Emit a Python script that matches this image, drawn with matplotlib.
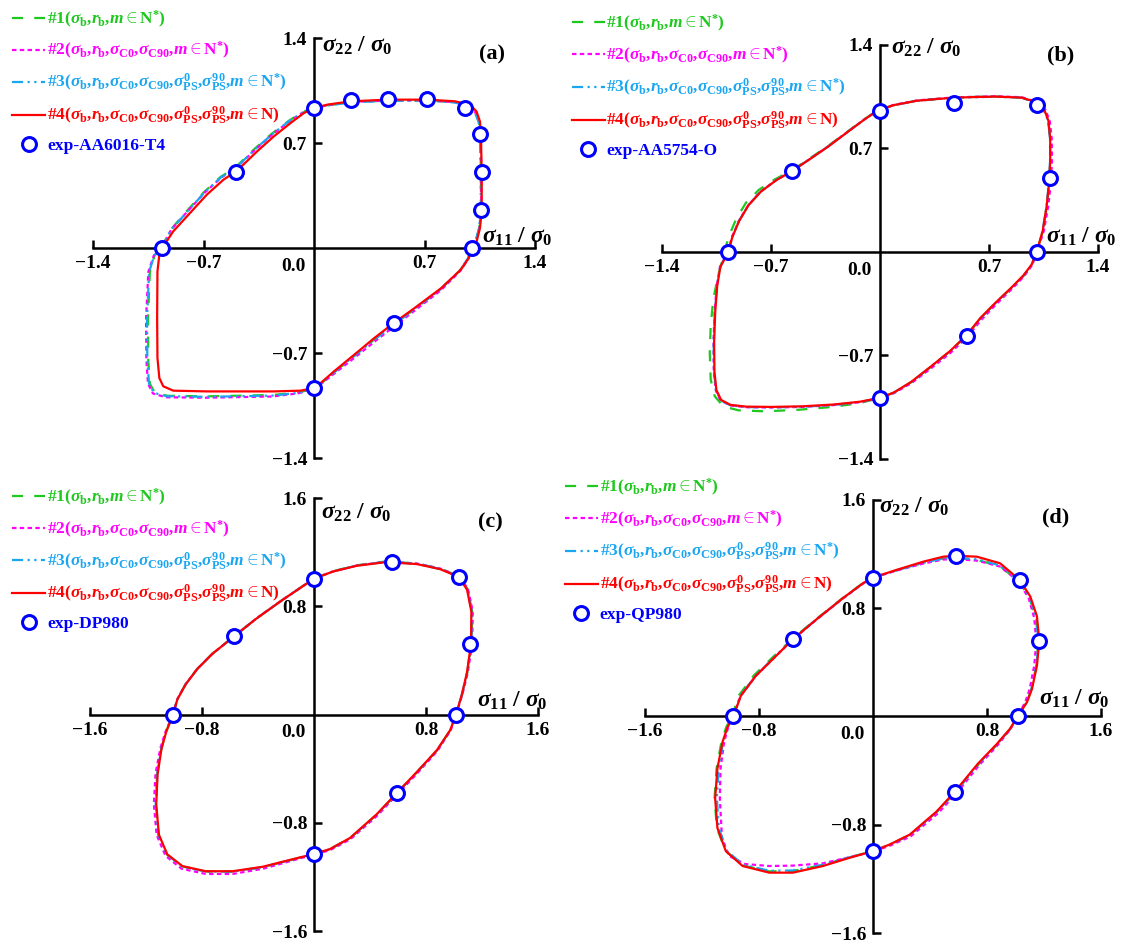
import numpy as np
import matplotlib.pyplot as plt

plt.rcParams['font.family'] = ['Liberation Serif', 'DejaVu Serif']
plt.rcParams['font.weight'] = 'bold'
plt.rcParams['mathtext.fontset'] = 'custom'
plt.rcParams['mathtext.rm'] = 'Liberation Serif:bold'
plt.rcParams['mathtext.it'] = 'Liberation Serif:bold:italic'
plt.rcParams['mathtext.bf'] = 'Liberation Serif:bold'

# ---- (a) AA6016-T4 ----
a_fit1 = [(-0.968, 0.000), (-0.910, 0.120), (-0.805, 0.248), (-0.698, 0.372), (-0.592, 0.474), (-0.500, 0.535),
          (-0.378, 0.660), (-0.270, 0.760), (-0.160, 0.848), (-0.070, 0.908), (0.000, 0.935), (0.085, 0.952),
          (0.234, 0.972), (0.467, 0.983), (0.722, 0.984), (0.892, 0.972), (0.980, 0.948), (1.022, 0.905),
          (1.045, 0.840), (1.052, 0.756), (1.057, 0.511), (1.057, 0.244), (1.046, 0.130), (1.022, 0.040),
          (1.000, 0.000), (0.975, -0.070), (0.924, -0.150), (0.798, -0.278), (0.630, -0.412), (0.500, -0.515),
          (0.375, -0.615), (0.248, -0.725), (0.120, -0.835), (0.040, -0.908), (0.000, -0.935), (-0.090, -0.962),
          (-0.260, -0.980), (-0.680, -0.989), (-0.930, -0.985), (-1.010, -0.962), (-1.040, -0.905),
          (-1.050, -0.750), (-1.052, -0.470), (-1.040, -0.160), (-1.010, -0.050), (-0.968, 0.000)]
a_fit2 = [(-0.966, 0.000), (-0.906, 0.121), (-0.801, 0.245), (-0.694, 0.368), (-0.588, 0.470), (-0.498, 0.530),
          (-0.372, 0.656), (-0.265, 0.756), (-0.157, 0.844), (-0.068, 0.905), (0.000, 0.934), (0.085, 0.952),
          (0.234, 0.973), (0.467, 0.984), (0.722, 0.984), (0.892, 0.972), (0.980, 0.947), (1.022, 0.904),
          (1.046, 0.840), (1.054, 0.756), (1.060, 0.511), (1.059, 0.244), (1.047, 0.130), (1.022, 0.038),
          (1.000, 0.000), (0.977, -0.072), (0.927, -0.152), (0.803, -0.282), (0.636, -0.418), (0.508, -0.522),
          (0.382, -0.625), (0.252, -0.735), (0.122, -0.842), (0.040, -0.910), (0.000, -0.935), (-0.095, -0.968),
          (-0.265, -0.990), (-0.685, -0.998), (-0.940, -0.995), (-1.020, -0.970), (-1.052, -0.905),
          (-1.062, -0.750), (-1.064, -0.470), (-1.050, -0.160), (-1.015, -0.050), (-0.966, 0.000)]
a_fit3 = [(-0.966, 0.000), (-0.905, 0.122), (-0.800, 0.246), (-0.694, 0.370), (-0.588, 0.472), (-0.498, 0.532),
          (-0.374, 0.658), (-0.266, 0.758), (-0.158, 0.846), (-0.068, 0.906), (0.000, 0.934), (0.085, 0.950),
          (0.234, 0.970), (0.467, 0.982), (0.722, 0.983), (0.892, 0.970), (0.978, 0.945), (1.020, 0.902),
          (1.043, 0.838), (1.050, 0.756), (1.056, 0.511), (1.056, 0.244), (1.045, 0.130), (1.021, 0.040),
          (1.000, 0.000), (0.974, -0.070), (0.922, -0.152), (0.796, -0.280), (0.628, -0.414), (0.500, -0.516),
          (0.374, -0.617), (0.246, -0.727), (0.118, -0.836), (0.040, -0.908), (0.000, -0.935), (-0.092, -0.965),
          (-0.262, -0.984), (-0.682, -0.992), (-0.935, -0.988), (-1.015, -0.965), (-1.045, -0.905),
          (-1.056, -0.750), (-1.058, -0.470), (-1.045, -0.160), (-1.012, -0.050), (-0.966, 0.000)]
a_fit4 = [(-0.962, 0.000), (-0.892, 0.111), (-0.786, 0.233), (-0.679, 0.356), (-0.573, 0.456), (-0.488, 0.515),
          (-0.361, 0.644), (-0.255, 0.744), (-0.149, 0.833), (-0.064, 0.900), (0.000, 0.933), (0.085, 0.956),
          (0.234, 0.978), (0.467, 0.989), (0.722, 0.989), (0.892, 0.978), (0.987, 0.956), (1.029, 0.911),
          (1.051, 0.844), (1.057, 0.756), (1.062, 0.511), (1.062, 0.244), (1.051, 0.133), (1.030, 0.044),
          (1.002, 0.000), (0.980, -0.067), (0.930, -0.144), (0.806, -0.267), (0.637, -0.400), (0.505, -0.500),
          (0.382, -0.600), (0.255, -0.711), (0.127, -0.822), (0.042, -0.900), (0.000, -0.933), (-0.085, -0.951),
          (-0.255, -0.956), (-0.679, -0.956), (-0.892, -0.951), (-0.955, -0.922), (-0.980, -0.867),
          (-0.992, -0.733), (-0.994, -0.467), (-0.992, -0.156), (-0.980, -0.044), (-0.962, 0.000)]
a_exp_x = [0.0, 0.234, 0.467, 0.716, 0.955, 1.051, 1.062, 1.055, 1.002, 0.505, 0.0, -0.962, -0.495]
a_exp_y = [0.933, 0.984, 0.996, 0.996, 0.933, 0.760, 0.507, 0.251, 0.0, -0.500, -0.933, 0.0, 0.507]

# ---- (b) AA5754-O ----
b_fit4 = [(-0.974, 0.000), (-0.948, 0.101), (-0.905, 0.208), (-0.845, 0.315), (-0.765, 0.408), (-0.668, 0.484),
          (-0.563, 0.549), (-0.450, 0.628), (-0.330, 0.715), (-0.210, 0.810), (-0.100, 0.896), (-0.040, 0.939),
          (0.000, 0.963), (0.087, 0.993), (0.238, 1.023), (0.476, 1.044), (0.736, 1.051), (0.909, 1.044),
          (1.006, 1.012), (1.055, 0.962), (1.082, 0.886), (1.093, 0.764), (1.093, 0.611), (1.085, 0.459),
          (1.070, 0.309), (1.045, 0.143), (1.006, 0.000), (0.974, -0.085), (0.920, -0.160), (0.840, -0.245),
          (0.740, -0.345), (0.645, -0.446), (0.556, -0.563), (0.450, -0.670), (0.330, -0.772), (0.200, -0.879),
          (0.090, -0.950), (0.000, -0.987), (-0.130, -1.013), (-0.300, -1.032), (-0.500, -1.044),
          (-0.700, -1.048), (-0.860, -1.046), (-0.960, -1.034), (-1.020, -1.001), (-1.050, -0.935),
          (-1.063, -0.812), (-1.065, -0.609), (-1.058, -0.406), (-1.045, -0.228), (-1.025, -0.101), (-0.974, 0.000)]
b_fit1 = [(-1.000, 0.000), (-0.970, 0.107), (-0.925, 0.220), (-0.862, 0.331), (-0.778, 0.420), (-0.675, 0.491),
          (-0.566, 0.552), (-0.452, 0.632), (-0.331, 0.719), (-0.210, 0.813), (-0.100, 0.898), (-0.040, 0.940),
          (0.000, 0.963), (0.087, 0.992), (0.238, 1.024), (0.476, 1.046), (0.736, 1.052), (0.909, 1.043),
          (1.004, 1.010), (1.052, 0.959), (1.080, 0.884), (1.092, 0.764), (1.093, 0.611), (1.086, 0.459),
          (1.072, 0.309), (1.046, 0.143), (1.006, 0.000), (0.975, -0.085), (0.921, -0.162), (0.841, -0.246),
          (0.741, -0.348), (0.646, -0.450), (0.556, -0.566), (0.448, -0.673), (0.328, -0.776), (0.198, -0.882),
          (0.088, -0.953), (0.000, -0.987), (-0.130, -1.022), (-0.303, -1.048), (-0.519, -1.067),
          (-0.736, -1.078), (-0.909, -1.071), (-1.006, -1.044), (-1.061, -0.976), (-1.087, -0.863),
          (-1.093, -0.682), (-1.087, -0.501), (-1.071, -0.321), (-1.039, -0.159), (-1.015, -0.067), (-1.000, 0.000)]
b_fit2 = [(-0.976, 0.000), (-0.950, 0.102), (-0.907, 0.209), (-0.846, 0.316), (-0.766, 0.409), (-0.668, 0.485),
          (-0.563, 0.550), (-0.450, 0.629), (-0.330, 0.716), (-0.210, 0.811), (-0.100, 0.897), (-0.040, 0.939),
          (0.000, 0.963), (0.087, 0.994), (0.238, 1.025), (0.476, 1.046), (0.736, 1.053), (0.909, 1.047),
          (1.010, 1.014), (1.062, 0.962), (1.090, 0.886), (1.103, 0.764), (1.104, 0.611), (1.097, 0.459),
          (1.080, 0.309), (1.052, 0.143), (1.008, 0.000), (0.978, -0.087), (0.925, -0.165), (0.846, -0.251),
          (0.747, -0.353), (0.652, -0.457), (0.562, -0.573), (0.455, -0.680), (0.334, -0.782), (0.203, -0.886),
          (0.090, -0.955), (0.000, -0.989), (-0.130, -1.016), (-0.300, -1.036), (-0.500, -1.048),
          (-0.700, -1.052), (-0.860, -1.050), (-0.962, -1.038), (-1.024, -1.004), (-1.054, -0.937),
          (-1.067, -0.812), (-1.069, -0.609), (-1.062, -0.406), (-1.048, -0.228), (-1.027, -0.101), (-0.976, 0.000)]
b_fit3 = [(-0.976, 0.000), (-0.950, 0.102), (-0.906, 0.209), (-0.846, 0.316), (-0.766, 0.409), (-0.668, 0.485),
          (-0.563, 0.550), (-0.450, 0.629), (-0.330, 0.716), (-0.210, 0.811), (-0.100, 0.897), (-0.040, 0.939),
          (0.000, 0.963), (0.087, 0.992), (0.238, 1.022), (0.476, 1.043), (0.736, 1.050), (0.909, 1.043),
          (1.004, 1.010), (1.052, 0.960), (1.080, 0.884), (1.092, 0.764), (1.092, 0.611), (1.084, 0.459),
          (1.069, 0.309), (1.044, 0.143), (1.006, 0.000), (0.975, -0.086), (0.921, -0.161), (0.841, -0.246),
          (0.741, -0.347), (0.646, -0.448), (0.557, -0.565), (0.450, -0.672), (0.330, -0.774), (0.200, -0.881),
          (0.090, -0.951), (0.000, -0.987), (-0.130, -1.015), (-0.300, -1.035), (-0.500, -1.047),
          (-0.700, -1.051), (-0.860, -1.049), (-0.962, -1.037), (-1.023, -1.003), (-1.053, -0.936),
          (-1.066, -0.812), (-1.068, -0.609), (-1.061, -0.406), (-1.047, -0.228), (-1.027, -0.101), (-0.976, 0.000)]
b_exp_x = [0.0, 0.476, 1.011, 1.093, 1.006, 0.556, 0.0, -0.974, -0.563]
b_exp_y = [0.956, 1.008, 0.997, 0.497, 0.0, -0.569, -0.987, 0.0, 0.549]

# ---- (c) DP980 ----
c_fit4 = [(-1.007, 0.000), (-0.976, 0.113), (-0.916, 0.225), (-0.833, 0.338), (-0.725, 0.450), (-0.569, 0.580),
          (-0.414, 0.708), (-0.222, 0.850), (-0.079, 0.950), (0.000, 1.005), (0.136, 1.058), (0.304, 1.100),
          (0.495, 1.125), (0.555, 1.125), (0.734, 1.113), (0.902, 1.075), (1.033, 1.018), (1.093, 0.925),
          (1.124, 0.763), (1.122, 0.525), (1.093, 0.313), (1.057, 0.150), (1.014, 0.000), (0.974, -0.113),
          (0.878, -0.263), (0.734, -0.425), (0.591, -0.580), (0.447, -0.738), (0.256, -0.913), (0.112, -0.995),
          (0.000, -1.030), (-0.175, -1.075), (-0.366, -1.125), (-0.581, -1.158), (-0.773, -1.158),
          (-0.940, -1.120), (-1.048, -1.033), (-1.108, -0.888), (-1.127, -0.663), (-1.117, -0.438),
          (-1.089, -0.250), (-1.055, -0.125), (-1.007, 0.000)]
c_fit1 = [(-1.007, 0.000), (-0.977, 0.113), (-0.917, 0.226), (-0.834, 0.339), (-0.726, 0.451), (-0.569, 0.581),
          (-0.414, 0.709), (-0.222, 0.851), (-0.079, 0.951), (0.000, 1.005), (0.136, 1.060), (0.304, 1.104),
          (0.495, 1.130), (0.555, 1.130), (0.734, 1.117), (0.902, 1.080), (1.036, 1.022), (1.098, 0.928),
          (1.130, 0.763), (1.126, 0.525), (1.096, 0.313), (1.058, 0.150), (1.014, 0.000), (0.975, -0.113),
          (0.879, -0.264), (0.735, -0.427), (0.592, -0.582), (0.448, -0.740), (0.257, -0.915), (0.112, -0.996),
          (0.000, -1.030), (-0.175, -1.078), (-0.366, -1.128), (-0.581, -1.160), (-0.773, -1.160),
          (-0.941, -1.122), (-1.050, -1.035), (-1.110, -0.888), (-1.129, -0.663), (-1.119, -0.438),
          (-1.090, -0.250), (-1.056, -0.125), (-1.007, 0.000)]
c_fit2 = [(-1.008, 0.000), (-0.977, 0.113), (-0.917, 0.225), (-0.834, 0.338), (-0.726, 0.450), (-0.570, 0.580),
          (-0.415, 0.708), (-0.223, 0.850), (-0.079, 0.950), (0.000, 1.004), (0.136, 1.058), (0.304, 1.102),
          (0.495, 1.128), (0.555, 1.129), (0.734, 1.117), (0.902, 1.080), (1.036, 1.023), (1.100, 0.930),
          (1.134, 0.763), (1.130, 0.525), (1.099, 0.313), (1.060, 0.150), (1.015, 0.000), (0.977, -0.115),
          (0.883, -0.267), (0.740, -0.431), (0.597, -0.588), (0.452, -0.747), (0.259, -0.922), (0.112, -1.003),
          (0.000, -1.034), (-0.175, -1.085), (-0.366, -1.140), (-0.581, -1.178), (-0.773, -1.178),
          (-0.945, -1.140), (-1.060, -1.045), (-1.124, -0.890), (-1.144, -0.663), (-1.132, -0.438),
          (-1.098, -0.250), (-1.060, -0.125), (-1.008, 0.000)]
c_fit3 = [(-1.007, 0.000), (-0.976, 0.113), (-0.916, 0.225), (-0.833, 0.338), (-0.725, 0.450), (-0.569, 0.580),
          (-0.414, 0.708), (-0.222, 0.850), (-0.079, 0.950), (0.000, 1.005), (0.136, 1.059), (0.304, 1.102),
          (0.495, 1.127), (0.555, 1.127), (0.734, 1.115), (0.902, 1.077), (1.034, 1.020), (1.095, 0.926),
          (1.127, 0.763), (1.124, 0.525), (1.094, 0.313), (1.057, 0.150), (1.014, 0.000), (0.975, -0.113),
          (0.879, -0.264), (0.735, -0.426), (0.592, -0.581), (0.448, -0.739), (0.257, -0.914), (0.112, -0.996),
          (0.000, -1.030), (-0.175, -1.077), (-0.366, -1.128), (-0.581, -1.161), (-0.773, -1.161),
          (-0.942, -1.123), (-1.051, -1.035), (-1.112, -0.888), (-1.131, -0.663), (-1.120, -0.438),
          (-1.091, -0.250), (-1.056, -0.125), (-1.007, 0.000)]
c_exp_x = [0.0, 0.555, 1.033, 1.117, 1.014, 0.591, 0.0, -1.007, -0.569]
c_exp_y = [1.005, 1.125, 1.018, 0.525, 0.0, -0.580, -1.030, 0.0, 0.580]

# ---- (d) QP980 ----
d_fit4 = [(-0.981, 0.000), (-0.927, 0.154), (-0.822, 0.301), (-0.681, 0.447), (-0.563, 0.570), (-0.399, 0.716),
          (-0.211, 0.875), (-0.070, 0.985), (0.000, 1.027), (0.164, 1.083), (0.352, 1.144), (0.493, 1.181),
          (0.582, 1.188), (0.728, 1.181), (0.892, 1.132), (1.028, 1.010), (1.103, 0.888), (1.150, 0.741),
          (1.167, 0.557), (1.150, 0.374), (1.115, 0.203), (1.080, 0.105), (1.014, 0.000), (0.962, -0.090),
          (0.869, -0.203), (0.735, -0.350), (0.575, -0.555), (0.446, -0.702), (0.258, -0.873), (0.117, -0.946),
          (0.000, -0.995), (-0.164, -1.044), (-0.352, -1.105), (-0.563, -1.154), (-0.728, -1.154),
          (-0.915, -1.105), (-1.033, -0.995), (-1.092, -0.824), (-1.108, -0.604), (-1.092, -0.384),
          (-1.056, -0.188), (-1.021, -0.078), (-0.981, 0.000)]
d_fit1 = [(-0.990, 0.000), (-0.940, 0.158), (-0.834, 0.306), (-0.690, 0.452), (-0.566, 0.573), (-0.401, 0.718),
          (-0.212, 0.876), (-0.070, 0.986), (0.000, 1.027), (0.164, 1.080), (0.352, 1.136), (0.493, 1.168),
          (0.582, 1.170), (0.728, 1.158), (0.892, 1.110), (1.022, 1.000), (1.097, 0.880), (1.142, 0.735),
          (1.160, 0.557), (1.145, 0.374), (1.112, 0.203), (1.078, 0.105), (1.014, 0.000), (0.963, -0.092),
          (0.871, -0.207), (0.738, -0.355), (0.578, -0.560), (0.447, -0.706), (0.258, -0.876), (0.117, -0.948),
          (0.000, -0.995), (-0.164, -1.040), (-0.352, -1.098), (-0.563, -1.142), (-0.728, -1.145),
          (-0.915, -1.100), (-1.035, -0.992), (-1.096, -0.824), (-1.112, -0.604), (-1.098, -0.384),
          (-1.064, -0.188), (-1.030, -0.078), (-0.990, 0.000)]
d_fit2 = [(-0.983, 0.000), (-0.928, 0.154), (-0.822, 0.301), (-0.681, 0.447), (-0.563, 0.570), (-0.399, 0.714),
          (-0.211, 0.872), (-0.070, 0.982), (0.000, 1.024), (0.164, 1.078), (0.352, 1.130), (0.493, 1.160),
          (0.582, 1.163), (0.728, 1.152), (0.892, 1.108), (1.021, 0.998), (1.092, 0.875), (1.131, 0.729),
          (1.146, 0.557), (1.131, 0.374), (1.099, 0.203), (1.068, 0.105), (1.012, 0.000), (0.964, -0.094),
          (0.874, -0.212), (0.743, -0.362), (0.585, -0.568), (0.455, -0.716), (0.264, -0.886), (0.120, -0.954),
          (0.000, -0.998), (-0.164, -1.040), (-0.352, -1.085), (-0.563, -1.102), (-0.728, -1.105),
          (-0.900, -1.090), (-1.010, -1.030), (-1.060, -0.900), (-1.075, -0.604), (-1.070, -0.384),
          (-1.045, -0.188), (-1.016, -0.078), (-0.983, 0.000)]
d_fit3 = [(-0.984, 0.000), (-0.930, 0.155), (-0.824, 0.302), (-0.683, 0.448), (-0.564, 0.571), (-0.400, 0.716),
          (-0.211, 0.874), (-0.070, 0.984), (0.000, 1.026), (0.164, 1.080), (0.352, 1.136), (0.493, 1.168),
          (0.582, 1.172), (0.728, 1.162), (0.892, 1.116), (1.024, 1.004), (1.098, 0.884), (1.144, 0.738),
          (1.161, 0.557), (1.146, 0.374), (1.112, 0.203), (1.078, 0.105), (1.014, 0.000), (0.963, -0.091),
          (0.870, -0.205), (0.737, -0.353), (0.577, -0.558), (0.447, -0.705), (0.258, -0.875), (0.117, -0.947),
          (0.000, -0.995), (-0.164, -1.040), (-0.352, -1.096), (-0.563, -1.138), (-0.728, -1.140),
          (-0.910, -1.096), (-1.025, -0.995), (-1.082, -0.824), (-1.096, -0.604), (-1.084, -0.384),
          (-1.052, -0.188), (-1.020, -0.078), (-0.984, 0.000)]
d_exp_x = [0.0, 0.582, 1.028, 1.167, 1.014, 0.575, 0.0, -0.981, -0.563]
d_exp_y = [1.027, 1.188, 1.010, 0.557, 0.0, -0.555, -0.995, 0.0, 0.570]

ticks_14 = [-1.4, -0.7, 0.7, 1.4]
labels_14 = ['\u22121.4', '\u22120.7', '0.7', '1.4']
ticks_16 = [-1.6, -0.8, 0.8, 1.6]
labels_16 = ['\u22121.6', '\u22120.8', '0.8', '1.6']

GREEN = '#1ec81e'
MAGENTA = '#ff00ff'
CYAN = '#1aa6f0'
RED = '#ff0000'
BLUE = '#0000ff'

lab1 = r'#1($\sigma_\mathrm{b}$,$r_\mathrm{b}$,$m\in\mathrm{N}^{*}$)'
lab2 = r'#2($\sigma_\mathrm{b}$,$r_\mathrm{b}$,$\sigma_\mathrm{C0}$,$\sigma_\mathrm{C90}$,$m\in\mathrm{N}^{*}$)'
lab3 = (r'#3($\sigma_\mathrm{b}$,$r_\mathrm{b}$,$\sigma_\mathrm{C0}$,$\sigma_\mathrm{C90}$,'
        r'$\sigma_\mathrm{PS}^0$,$\sigma_\mathrm{PS}^{90}$,$m\in\mathrm{N}^{*}$)')
lab4 = (r'#4($\sigma_\mathrm{b}$,$r_\mathrm{b}$,$\sigma_\mathrm{C0}$,$\sigma_\mathrm{C90}$,'
        r'$\sigma_\mathrm{PS}^0$,$\sigma_\mathrm{PS}^{90}$,$m\in\mathrm{N}$)')


def draw_panel(fig, rect, fits, exp_x, exp_y, exp_name, lim, ticks, ticklabels,
               letter, letter_xy, ylab_xy, xlab_xy, legend_xy):
    ax = fig.add_axes(rect)
    ax.patch.set_alpha(0)
    styles = [(GREEN, (5, 5), lab1, 3), (MAGENTA, (2, 1.5), lab2, 3.1),
              (CYAN, (5, 2, 1, 2, 1, 2), lab3, 3.2), (RED, None, lab4, 3.5)]
    for pts, (col, dsh, lab, z) in zip(fits, styles):
        arr = np.array(pts)
        if dsh is None:
            ax.plot(arr[:, 0], arr[:, 1], color=col, lw=1.6, label=lab, zorder=z)
        else:
            ax.plot(arr[:, 0], arr[:, 1], color=col, lw=1.6, dashes=dsh, label=lab, zorder=z)
    ax.plot(exp_x, exp_y, 'o', ms=10, mfc='white', mec=BLUE, mew=2.2,
            color=BLUE, label='exp-' + exp_name, zorder=5, clip_on=False)

    ax.set_xlim(-lim, lim)
    ax.set_ylim(-lim, lim)
    for s in ['top', 'right']:
        ax.spines[s].set_visible(False)
    for s in ['left', 'bottom']:
        ax.spines[s].set_position('zero')
        ax.spines[s].set_linewidth(1.8)
        ax.spines[s].set_zorder(2)
    ax.set_xticks(ticks, ticklabels)
    ax.set_yticks(ticks, ticklabels)
    ax.tick_params(direction='in', length=6, width=1.8, labelsize=14, pad=5)
    ax.annotate('0.0', xy=(0, 0), xytext=(-6, -7), textcoords='offset points',
                ha='right', va='top', fontsize=14)

    ax.text(ylab_xy[0], ylab_xy[1], r'$\sigma_{22}$ / $\sigma_0$', fontsize=17,
            ha='left', va='center')
    ax.text(xlab_xy[0], xlab_xy[1], r'$\sigma_{11}$ / $\sigma_0$', fontsize=17,
            ha='center', va='center', clip_on=False)
    ax.text(letter_xy[0], letter_xy[1], letter, fontsize=16, ha='center', va='center')

    ax.legend(loc='upper left', bbox_to_anchor=legend_xy, bbox_transform=fig.transFigure,
              frameon=False, fontsize=12.5, handlelength=1.9, handletextpad=0.1,
              labelspacing=0.62, borderpad=0, borderaxespad=0, labelcolor='linecolor')
    return ax


fig = plt.figure(figsize=(11.21, 9.43), dpi=100)

draw_panel(fig, [0.0830, 0.5143, 0.3943, 0.4454], [a_fit1, a_fit2, a_fit3, a_fit4],
           a_exp_x, a_exp_y, 'AA6016-T4', 1.4, ticks_14, labels_14,
           '(a)', (1.13, 1.29), (0.05, 1.35), (1.29, 0.075), (0.011, 0.991))
draw_panel(fig, [0.5905, 0.5133, 0.3890, 0.4390], [b_fit1, b_fit2, b_fit3, b_fit4],
           b_exp_x, b_exp_y, 'AA5754-O', 1.4, ticks_14, labels_14,
           '(b)', (1.16, 1.33), (0.07, 1.38), (1.29, 0.10), (0.510, 0.986))
draw_panel(fig, [0.0803, 0.0127, 0.3996, 0.4590], [c_fit1, c_fit2, c_fit3, c_fit4],
           c_exp_x, c_exp_y, 'DP980', 1.6, ticks_16, labels_16,
           '(c)', (1.26, 1.42), (0.05, 1.49), (1.42, 0.10), (0.011, 0.484))
draw_panel(fig, [0.5754, 0.0106, 0.4068, 0.4592], [d_fit1, d_fit2, d_fit3, d_fit4],
           d_exp_x, d_exp_y, 'QP980', 1.6, ticks_16, labels_16,
           '(d)', (1.28, 1.47), (0.04, 1.55), (1.41, 0.13), (0.504, 0.494))

fig.savefig('out.png', dpi=100)
